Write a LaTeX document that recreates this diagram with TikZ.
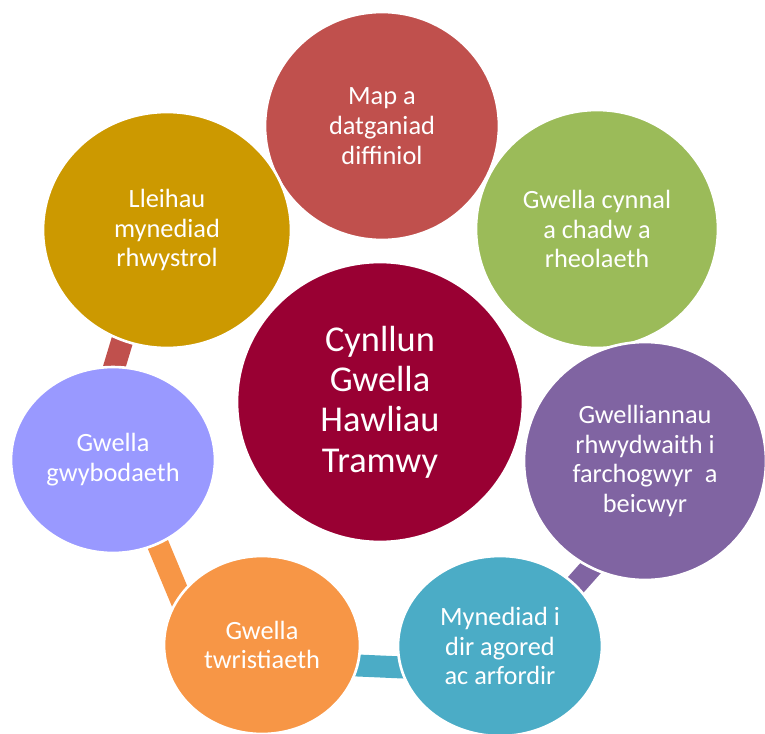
\documentclass[tikz,border=0pt]{standalone}
\usepackage{fontspec}
\setmainfont{Carlito}
\usetikzlibrary{shapes.geometric,backgrounds}

\definecolor{lliwcanol}{RGB}{153,0,51}
\definecolor{lliwcoch}{RGB}{192,80,77}
\definecolor{lliwaur}{RGB}{204,153,0}
\definecolor{lliwgwyrdd}{RGB}{155,187,89}
\definecolor{lliwporffor}{RGB}{128,100,162}
\definecolor{lliwlelog}{RGB}{153,153,255}
\definecolor{lliworen}{RGB}{247,150,70}
\definecolor{lliwglas}{RGB}{75,172,198}

\begin{document}
\begin{tikzpicture}
  [x=0.02cm, y=-0.02cm,
   cylch/.style={
    ellipse,
    draw=white,
    line width=1.5pt,
    inner sep=0pt,
    text=white,
    align=center,
    font=\fontsize{15}{17}\selectfont},
   canolcylch/.style={
    cylch,
    fill=lliwcanol,
    minimum width=5.72cm,
    minimum height=5.6cm,
    font=\fontsize{20.7}{23}\selectfont},
   cyswllt/.style={
    line width=0.44cm,
    shorten <=-5pt,
    shorten >=-5pt}]

  \useasboundingbox (0,0) rectangle (765,734);

  \node [cylch, fill=lliwcoch, minimum width=4.68cm, minimum height=4.56cm]
    at (382,126) (map) {Map a\\datganiad\\diffiniol};

  \node [cylch, fill=lliwaur, minimum width=4.96cm, minimum height=4.72cm]
    at (167,230) (lleihau) {Lleihau\\mynediad\\rhwystrol};

  \node [cylch, fill=lliwgwyrdd, minimum width=4.84cm, minimum height=4.76cm]
    at (597,229) (cynnal) {Gwella cynnal\\a chadw a\\rheolaeth};

  \node [cylch, fill=lliwporffor, minimum width=4.84cm, minimum height=4.76cm]
    at (645,461) (rhwydwaith) {Gwelliannau\\rhwydwaith i\\farchogwyr\ \ a\\beicwyr};

  \node [cylch, fill=lliwlelog, minimum width=4.08cm, minimum height=3.72cm]
    at (113,460) (gwybodaeth) {Gwella\\gwybodaeth};

  \node [cylch, fill=lliworen, minimum width=3.92cm, minimum height=3.56cm]
    at (262,645) (twristiaeth) {Gwella\\twristiaeth};

  \node [cylch, fill=lliwglas, minimum width=4.08cm, minimum height=3.6cm]
    at (500,646) (mynediad) {Mynediad i\\dir agored\\ac arfordir};

  \node [canolcylch] at (380,402) (cynllun) {Cynllun\\Gwella\\Hawliau\\Tramwy};

  \begin{scope}[on background layer]
    \draw [cyswllt, lliwcoch] (lleihau.248) -- (gwybodaeth.89);
    \draw [cyswllt, lliworen] (gwybodaeth.298) -- (twristiaeth.149);
    \draw [cyswllt, lliwglas] (twristiaeth.-12) -- (mynediad.192);
    \draw [cyswllt, lliwporffor] (mynediad.39) -- (rhwydwaith.243);
  \end{scope}
\end{tikzpicture}
\end{document}
